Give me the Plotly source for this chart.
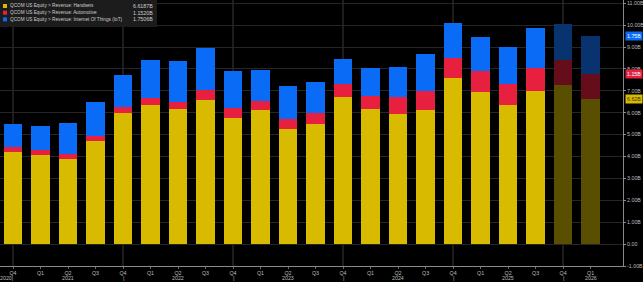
import plotly.graph_objects as go

quarters = ["Q4", "Q1", "Q2", "Q3", "Q4", "Q1", "Q2", "Q3", "Q4", "Q1", "Q2",
            "Q3", "Q4", "Q1", "Q2", "Q3", "Q4", "Q1", "Q2", "Q3", "Q4", "Q1"]
years = ["2020", "2021", "2021", "2021", "2021", "2022", "2022", "2022", "2022", "2023", "2023",
         "2023", "2023", "2024", "2024", "2024", "2024", "2025", "2025", "2025", "2025", "2026"]
handsets = [4.22, 4.09, 3.87, 4.70, 6.01, 6.36, 6.17, 6.59, 5.78, 6.13, 5.27,
            5.47, 6.71, 6.19, 5.93, 6.11, 7.59, 6.95, 6.36, 6.98, 7.29, 6.6187]
automotive = [0.22, 0.21, 0.26, 0.25, 0.26, 0.33, 0.32, 0.44, 0.44, 0.42, 0.43,
              0.54, 0.59, 0.59, 0.79, 0.90, 0.93, 0.95, 0.96, 1.05, 1.11, 1.1520]
iot = [1.05, 1.10, 1.42, 1.56, 1.46, 1.71, 1.86, 1.92, 1.69, 1.42, 1.51,
       1.38, 1.15, 1.28, 1.37, 1.69, 1.57, 1.58, 1.69, 1.82, 1.66, 1.7506]
estimate = [False] * 20 + [True, True]
series_names = ["QCOM US Equity > Revenue: Handsets",
                "QCOM US Equity > Revenue: Automotive",
                "QCOM US Equity > Revenue: Internet Of Things (IoT)"]
y_ticks = [-1, 0, 1, 2, 3, 4, 5, 6, 7, 8, 9, 10, 11]

YELLOW, RED, BLUE = "#D8BA00", "#E6203E", "#0A6CF6"
YELLOW_F, RED_F, BLUE_F = "#5A4F00", "#650D1B", "#08336E"
TXT = "#BDBDBD"
FS = 5.3

x = list(range(len(quarters)))
fig = go.Figure()
for vals, c, cf, name in [(handsets, YELLOW, YELLOW_F, series_names[0]),
                          (automotive, RED, RED_F, series_names[1]),
                          (iot, BLUE, BLUE_F, series_names[2])]:
    fig.add_trace(go.Bar(x=x, y=vals, name=name,
                         marker=dict(color=[cf if e else c for e in estimate], line=dict(width=0)),
                         showlegend=False))

PLOT_W, PLOT_H = 623, 266
fig.update_layout(
    width=643, height=282, barmode="stack", bargap=0.32,
    paper_bgcolor="black", plot_bgcolor="black",
    margin=dict(l=0, r=643 - PLOT_W, t=0, b=282 - PLOT_H),
    font=dict(family="Liberation Sans, Arial", size=FS, color=TXT),
)
fig.update_xaxes(range=[-0.473, 22.18], tickvals=x, ticktext=quarters,
                 showgrid=False, showline=True, linecolor="#8A8A8A", linewidth=1,
                 ticks="outside", ticklen=2, tickcolor="#6A6A6A", ticklabelstandoff=0,
                 tickfont=dict(size=FS, color=TXT), zeroline=False)
fig.update_yaxes(range=[-1, 11.15], side="right", tickvals=y_ticks,
                 ticktext=[f"{v:.2f}B" if v != 0 else "0.00" for v in y_ticks],
                 showgrid=True, gridcolor="#262626", gridwidth=1,
                 showline=True, linecolor="#8A8A8A", linewidth=1,
                 ticks="outside", ticklen=2, tickcolor="#8A8A8A",
                 tickfont=dict(size=FS, color=TXT), zeroline=False)

# year separators at Q4
for i, q in enumerate(quarters):
    if q == "Q4":
        fig.add_shape(type="line", xref="x", yref="paper", x0=i, x1=i, y0=0, y1=1,
                      line=dict(color="#3A3A3A", width=1), layer="below")
        txt = "2020|" if i == 0 else "|"
        fig.add_annotation(x=i, xref="x", y=0, yref="paper", text=txt, showarrow=False,
                           xanchor="right" if i == 0 else "center", xshift=2 if i == 0 else 0,
                           yanchor="top", yshift=-7, font=dict(size=FS, color=TXT))
    if q == "Q2" or (q == "Q1" and i == len(quarters) - 1):
        fig.add_annotation(x=i, xref="x", y=0, yref="paper", text=years[i], showarrow=False,
                           yanchor="top", yshift=-7, font=dict(size=FS, color=TXT))

# legend box
fig.add_shape(type="rect", xref="paper", yref="paper", x0=0, x1=157 / PLOT_W,
              y0=1 - 27 / PLOT_H, y1=1, fillcolor="#1C1C1C", line=dict(width=0))
last = len(quarters) - 1
for k, (name, c, v) in enumerate(zip(series_names, [YELLOW, RED, BLUE],
                                     [handsets[last], automotive[last], iot[last]])):
    yc = 1 - (6 + 6.7 * k) / PLOT_H
    fig.add_shape(type="rect", xref="paper", yref="paper", x0=3 / PLOT_W, x1=7 / PLOT_W,
                  y0=yc - 2 / PLOT_H, y1=yc + 2 / PLOT_H, fillcolor=c, line=dict(width=0))
    fig.add_annotation(x=8 / PLOT_W, xref="paper", y=yc, yref="paper", text=name,
                       showarrow=False, xanchor="left", yanchor="middle",
                       font=dict(size=4.7, color="#CFCFCF"))
    fig.add_annotation(x=155 / PLOT_W, xref="paper", y=yc, yref="paper", text=f"{v:.4f}B",
                       showarrow=False, xanchor="right", yanchor="middle",
                       font=dict(size=FS, color="#CFCFCF"))

# right-side value tags for last bar
cum = [handsets[last], handsets[last] + automotive[last],
       handsets[last] + automotive[last] + iot[last]]
for val, top, c, fc in [(handsets[last], cum[0], YELLOW, "#3A3000"),
                        (automotive[last], cum[1], RED, "white"),
                        (iot[last], cum[2], BLUE, "white")]:
    fig.add_annotation(x=1, xref="paper", y=top, yref="y", text=f"{val:.2f}B",
                       showarrow=False, xanchor="left", yanchor="middle", xshift=2,
                       bgcolor=c, borderpad=1, font=dict(size=FS, color=fc))

fig.write_html("out.html")
